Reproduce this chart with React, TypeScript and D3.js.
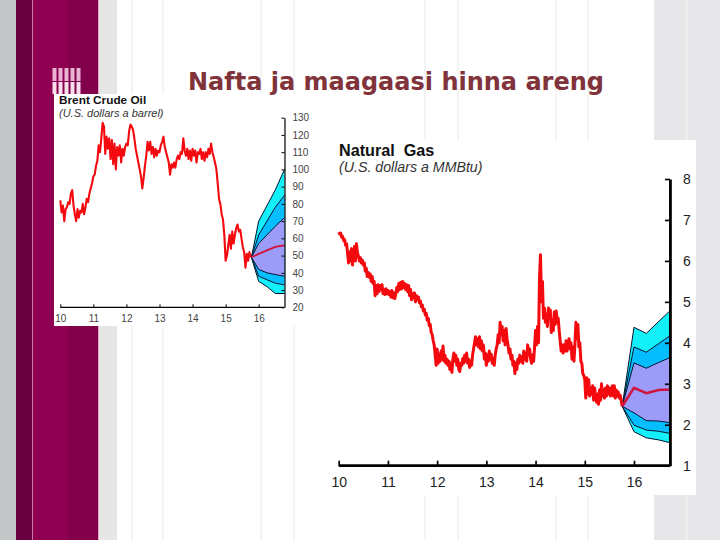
import { useEffect, useRef } from "react"
import * as d3 from "d3"

const title = "Nafta ja maagaasi hinna areng"
const yearLabels = [10, 11, 12, 13, 14, 15, 16]
const oilTicks = [20, 30, 40, 50, 60, 70, 80, 90, 100, 110, 120, 130]
const gasTicks = [1, 2, 3, 4, 5, 6, 7, 8]

// years between two readings, both series start at 2010
const oilStep = 0.04
const gasStep = 0.02

const oilPrices = [
  82, 75, 79, 70, 77, 78, 81, 80, 86, 88, 79, 74, 70, 77, 72, 76, 75, 80, 74, 78, 83, 81, 86, 89, 92,
  96, 97, 102, 105, 114, 110, 118, 127, 125, 109, 119, 112, 118, 106, 117, 103, 115, 100, 113, 108, 114, 104, 112, 108, 113,
  115, 114, 122, 126, 125, 123, 118, 112, 108, 104, 100, 96, 89, 95, 102, 108, 116, 111, 116, 109, 113, 107, 112, 108, 111,
  110, 114, 116, 119, 113, 110, 107, 104, 97, 103, 101, 104, 101, 106, 108, 106, 110, 109, 118, 111, 108, 112, 106, 111, 105,
  112, 108, 111, 104, 110, 109, 112, 106, 110, 105, 110, 107, 112, 109, 115, 110, 107, 104, 100, 92, 83, 80, 74, 71, 62,
  47, 50, 56, 62, 54, 64, 57, 62, 66, 68, 64, 65, 60, 55, 52, 43, 51, 47, 52, 49,
]

const gasPrices = [
  // 2010
  6.7, 6.66, 6.68, 6.58, 6.6, 6.5, 6.52, 6.38, 6.42, 6.2,
  5.95, 6.22, 6.0, 6.3, 5.9, 6.15, 6.35, 6.0, 6.42, 6.2,
  6.12, 6.0, 6.08, 5.95, 6.02, 5.9, 5.95, 5.75, 5.82, 5.62,
  5.72, 5.6, 5.68, 5.5, 5.62, 5.45, 5.5, 5.15, 5.4, 5.2,
  5.42, 5.25, 5.4, 5.3, 5.42, 5.2, 5.3, 5.18, 5.32, 5.2,
  // 2011
  5.28, 5.18, 5.25, 5.12, 5.28, 5.1, 5.22, 5.08, 5.2, 5.35,
  5.25, 5.45, 5.3, 5.48, 5.32, 5.5, 5.35, 5.45, 5.3, 5.42,
  5.25, 5.4, 5.15, 5.3, 5.05, 5.2, 5.1, 5.22, 5.0, 5.15,
  5.05, 5.12, 4.98, 5.02, 4.88, 4.92, 4.78, 4.82, 4.68, 4.72,
  4.55, 4.6, 4.42, 4.45, 4.25, 4.2, 4.05, 3.95, 3.7, 3.45,
  // 2012
  3.85, 3.5, 3.72, 3.55, 3.8, 3.6, 3.92, 3.55, 3.7, 3.5,
  3.6, 3.45, 3.55, 3.35, 3.5, 3.28, 3.6, 3.75, 3.55, 3.7,
  3.45, 3.6, 3.35, 3.3, 3.5, 3.45, 3.62, 3.5, 3.7, 3.55,
  3.75, 3.5, 3.6, 3.4, 3.55, 3.45, 3.7, 3.85, 4.0, 4.15,
  3.95, 4.1, 3.9, 4.15, 3.85, 4.05, 3.8, 3.95, 3.6, 3.75,
  // 2013
  3.45, 3.7, 3.55, 3.8, 3.6, 3.72, 3.5, 3.62, 3.45, 3.7,
  3.85, 3.95, 4.2, 4.0, 4.5, 4.2, 4.4, 4.05, 4.3, 3.95,
  4.35, 4.1, 3.95, 3.75, 3.85, 3.6, 3.7, 3.45, 3.55, 3.25,
  3.5, 3.35, 3.6, 3.5, 3.7, 3.55, 3.65, 3.5, 3.8, 3.6,
  3.75, 3.55, 3.95, 3.7, 3.85, 3.6, 3.5, 3.7, 3.55, 3.9,
  // 2014
  4.3, 3.95, 4.4, 4.0, 5.6, 6.15, 5.0, 5.5, 4.6, 4.85,
  4.5, 4.7, 4.4, 4.85, 4.6, 4.8, 4.25, 4.55, 4.3, 4.75,
  4.45, 4.78, 4.5, 4.6, 4.3, 4.05, 3.8, 3.95, 3.75, 3.95,
  3.8, 4.05, 3.8, 3.95, 4.1, 3.85, 4.0, 3.6, 3.9, 3.55,
  3.95, 4.5, 4.1, 4.45, 3.9, 4.0, 3.55, 3.5, 3.25, 3.2,
  // 2015
  3.1, 2.65, 3.15, 2.75, 3.1, 2.7, 2.9, 2.75, 2.95, 2.6,
  2.9, 2.7, 2.55, 2.75, 2.5, 2.85, 2.6, 3.0, 2.7, 2.85,
  2.65, 2.9, 2.7, 2.95, 2.75, 2.9, 2.7, 2.85, 2.95, 2.7,
  2.95, 2.65, 2.85, 2.7, 2.8, 2.65, 2.72, 2.6, 2.45,
]

// fan chart quantiles, right of the last reading
const oilFanYears = [15.78, 16.0, 16.25, 16.5, 16.78]
const oilOuterHigh = [49, 70, 79, 88, 100]
const oilMidHigh = [49, 62, 70, 78, 85]
const oilInnerHigh = [49, 57, 62, 67, 72]
const oilMedian = [49, 51, 53, 55, 56]
const oilInnerLow = [49, 42, 40, 39, 38]
const oilMidLow = [49, 38, 36, 34, 33]
const oilOuterLow = [49, 35, 32, 28, 28]

const gasFanYears = [15.76, 16.0, 16.25, 16.5, 16.73]
const gasOuterHigh = [2.45, 4.38, 4.23, 4.52, 4.78]
const gasMidHigh = [2.45, 3.9, 3.77, 3.98, 4.17]
const gasInnerHigh = [2.45, 3.51, 3.38, 3.52, 3.64]
const gasMedian = [2.45, 2.9, 2.77, 2.85, 2.86]
const gasInnerLow = [2.45, 2.29, 2.1, 2.09, 2.05]
const gasMidLow = [2.45, 1.99, 1.87, 1.84, 1.79]
const gasOuterLow = [2.45, 1.83, 1.68, 1.63, 1.56]

const faintLines = [132, 163, 261, 294, 425, 458, 556, 588]
const logoCols = [0, 1, 2, 3, 4]
const logoRows = [0, 1]

interface PanelOptions {
  prices: number[]
  step: number
  fanYears: number[]
  bands: [number[], number[], string][]
  median: number[]
  yTicks: number[]
  xRange: [number, number]
  yRange: [number, number]
  endYear: number
  lineWidth: number
  axisWidth: number
  fontSize: number
  labelColor: string
  tickLength: number
  xLabelOffset: number
  yLabelOffset: number
}

function drawPanel(root: d3.Selection<SVGGElement, unknown, null, undefined>, o: PanelOptions) {
  const yMin = o.yTicks[0]
  const yMax = o.yTicks[o.yTicks.length - 1]
  const x = d3.scaleLinear().domain([10, 16]).range(o.xRange)
  const y = d3.scaleLinear().domain([yMin, yMax]).range(o.yRange)
  const right = x(o.endYear)
  const g = root.append("g")

  const fanLine = d3
    .line<number>()
    .x((_, i) => x(o.fanYears[i]))
    .y((d) => y(d))

  // fan bands, widest first
  o.bands.forEach(([high, low, fill]) => {
    const area = d3
      .area<number>()
      .x((_, i) => x(o.fanYears[i]))
      .y0((_, i) => y(low[i]))
      .y1((d) => y(d))
    g.append("path").datum(high).attr("fill", fill).attr("d", area)
    ;[high, low].forEach((edge) => {
      g.append("path").datum(edge).attr("fill", "none").attr("stroke", "#04122e").attr("stroke-width", 1).attr("d", fanLine)
    })
  })

  const priceLine = d3
    .line<number>()
    .x((_, i) => x(10 + i * o.step))
    .y((d) => y(d))
  g.append("path")
    .datum(o.prices)
    .attr("fill", "none")
    .attr("stroke", "#f40a0e")
    .attr("stroke-width", o.lineWidth)
    .attr("stroke-linejoin", "round")
    .attr("d", priceLine)

  g.append("path")
    .datum(o.median)
    .attr("fill", "none")
    .attr("stroke", "#d0143c")
    .attr("stroke-width", o.lineWidth * 0.85)
    .attr("d", fanLine)

  // axes: x on the bottom, y on the right
  const xAxis = g
    .append("g")
    .attr("transform", `translate(0,${o.yRange[0]})`)
    .call(
      d3
        .axisBottom(x)
        .tickValues(yearLabels)
        .tickSize(-o.tickLength)
        .tickSizeOuter(0)
        .tickFormat((d) => String(d)),
    )
  xAxis.select(".domain").attr("d", `M${o.xRange[0]},0H${right}`)

  const yAxis = g
    .append("g")
    .attr("transform", `translate(${right},0)`)
    .call(
      d3
        .axisRight(y)
        .tickValues(o.yTicks)
        .tickSize(-o.tickLength)
        .tickSizeOuter(0)
        .tickFormat((d) => String(d)),
    )

  ;[xAxis, yAxis].forEach((axis) => {
    axis.select(".domain").attr("stroke", "#000").attr("stroke-width", o.axisWidth)
    axis.selectAll(".tick line").attr("stroke", "#000").attr("stroke-width", Math.max(1, o.axisWidth * 0.6))
    axis
      .selectAll(".tick text")
      .attr("fill", o.labelColor)
      .style("font-family", "'Liberation Sans', Arial, sans-serif")
      .style("font-size", `${o.fontSize}px`)
  })
  xAxis.selectAll(".tick text").attr("y", o.xLabelOffset).attr("dy", "0.71em")
  yAxis.selectAll(".tick text").attr("x", o.yLabelOffset)
}

export default function App() {
  const plotRef = useRef<SVGGElement>(null)

  useEffect(() => {
    const root = d3.select(plotRef.current as SVGGElement)
    root.selectAll("*").remove() // Clear previous render

    drawPanel(root, {
      prices: oilPrices,
      step: oilStep,
      fanYears: oilFanYears,
      bands: [
        [oilOuterHigh, oilOuterLow, "#14f0fa"],
        [oilMidHigh, oilMidLow, "#05beff"],
        [oilInnerHigh, oilInnerLow, "#9c9cf8"],
      ],
      median: oilMedian,
      yTicks: oilTicks,
      xRange: [60.3, 258.7],
      yRange: [307.3, 117.7],
      endYear: 16.78,
      lineWidth: 2.1,
      axisWidth: 1.2,
      fontSize: 10,
      labelColor: "#444",
      tickLength: 3,
      xLabelOffset: 8,
      yLabelOffset: 8,
    })

    drawPanel(root, {
      prices: gasPrices,
      step: gasStep,
      fanYears: gasFanYears,
      bands: [
        [gasOuterHigh, gasOuterLow, "#14f0fa"],
        [gasMidHigh, gasMidLow, "#05beff"],
        [gasInnerHigh, gasInnerLow, "#9c9cf8"],
      ],
      median: gasMedian,
      yTicks: gasTicks,
      xRange: [338.7, 634],
      yRange: [465.7, 179],
      endYear: 16.73,
      lineWidth: 3,
      axisWidth: 2.8,
      fontSize: 14,
      labelColor: "#222",
      tickLength: 5,
      xLabelOffset: 11,
      yLabelOffset: 13,
    })
  }, [])

  return (
    <svg width={720} height={540} style={{ position: "fixed", left: 0, top: 0 }}>
      <rect width={720} height={540} fill="#fff" />
      {faintLines.map((d) => (
        <line key={d} x1={d} x2={d} y1={0} y2={540} stroke="#e8e8e8" />
      ))}
      <rect x={0} width={16} height={540} fill="#c4c7c8" />
      <rect x={16} width={17} height={540} fill="#680040" />
      <rect x={32} width={1} height={540} fill="#c77aa6" />
      <rect x={33} width={35} height={540} fill="#8f0052" />
      <rect x={68} width={30} height={540} fill="#82004b" />
      <rect x={98} width={1} height={540} fill="#e8a8cc" />
      <rect x={99} width={18} height={540} fill="#e6e6e6" />
      <rect x={654} width={66} height={540} fill="#e7e7e9" />
      <line x1={687} x2={687} y1={0} y2={540} stroke="#f5f5f5" />
      {logoRows.map((r) =>
        logoCols.map((c) => (
          <rect
            key={`${r}-${c}`}
            x={52.5 + c * 6}
            y={68 + r * 14}
            width={4}
            height={r === 0 ? 13 : 12}
            fill={r === 0 ? "#e8b4d2" : "#f8dfec"}
          />
        )),
      )}

      <rect x={54} y={94} width={256} height={232} fill="#fff" />
      <rect x={336} y={140} width={360} height={355} fill="#fff" />

      <text
        x={396}
        y={90}
        textAnchor="middle"
        fill="#80333a"
        fontFamily="'DejaVu Sans', Verdana, sans-serif"
        fontWeight="bold"
        fontSize={24}
      >
        {title}
      </text>

      <g fontFamily="'Liberation Sans', Arial, sans-serif" fill="#111">
        <text x={59} y={104} fontSize={11.8} fontWeight="bold">
          Brent Crude Oil
        </text>
        <text x={59} y={117} fontSize={11} fontStyle="italic" fill="#333">
          (U.S. dollars a barrel)
        </text>
        <text x={339} y={156} fontSize={16.2} fontWeight="bold" style={{ whiteSpace: "pre" }}>
          Natural  Gas
        </text>
        <text x={339} y={172} fontSize={14.2} fontStyle="italic" fill="#333">
          (U.S. dollars a MMBtu)
        </text>
      </g>
      <g ref={plotRef} />
    </svg>
  )
}
